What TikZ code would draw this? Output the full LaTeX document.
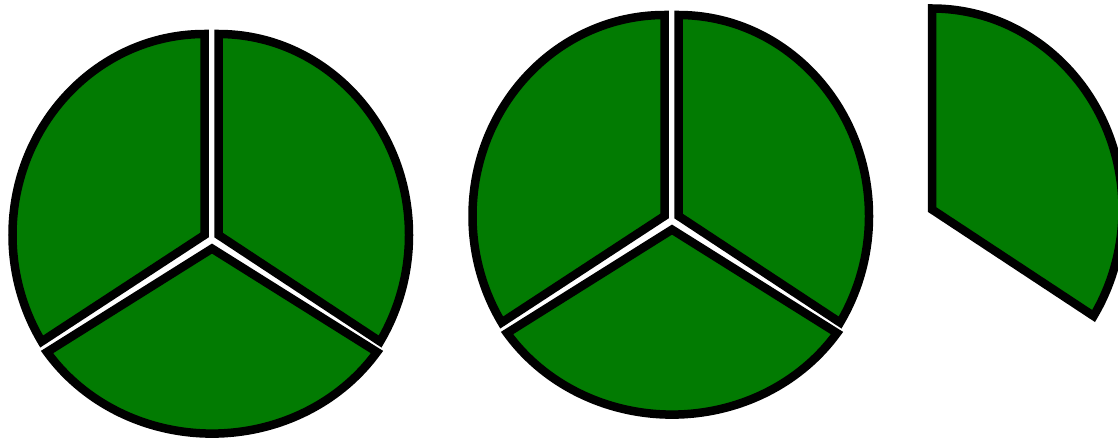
\documentclass[tikz,border=0pt]{standalone}
\definecolor{piegreen}{RGB}{2,123,2}
\begin{document}
\begin{tikzpicture}[x=1pt,y=1pt,
  sector/.style={fill=piegreen, draw=black, line width=8.5pt, miter limit=10}]
\useasboundingbox (0,0) rectangle (1118,437);
\clip (0,0) rectangle (1118,437);
% two exploded pies of three sectors each
\foreach \dx/\dy in {0/0, 460/19} {
  \begin{scope}[shift={(\dx pt,\dy pt)}]
    \draw[sector] (204.5,202) -- ++(0,201)
      arc[start angle=90, end angle=212, x radius=192pt, y radius=201pt] -- cycle;
    \draw[sector] (218.5,202) -- ++(0,201)
      arc[start angle=90, end angle=-32, x radius=190.5pt, y radius=201pt] -- cycle;
    \draw[sector] (212,188.4) -- ++(214:199pt and 185pt)
      arc[start angle=214, end angle=326, x radius=199pt, y radius=185pt] -- cycle;
  \end{scope}
}
% single sector at the right, cut by the edge
\begin{scope}[shift={(713.5pt,25.5pt)}]
  \draw[sector] (218.5,202) -- ++(0,201)
    arc[start angle=90, end angle=-32, x radius=190.5pt, y radius=201pt] -- cycle;
\end{scope}
\end{tikzpicture}
\end{document}
